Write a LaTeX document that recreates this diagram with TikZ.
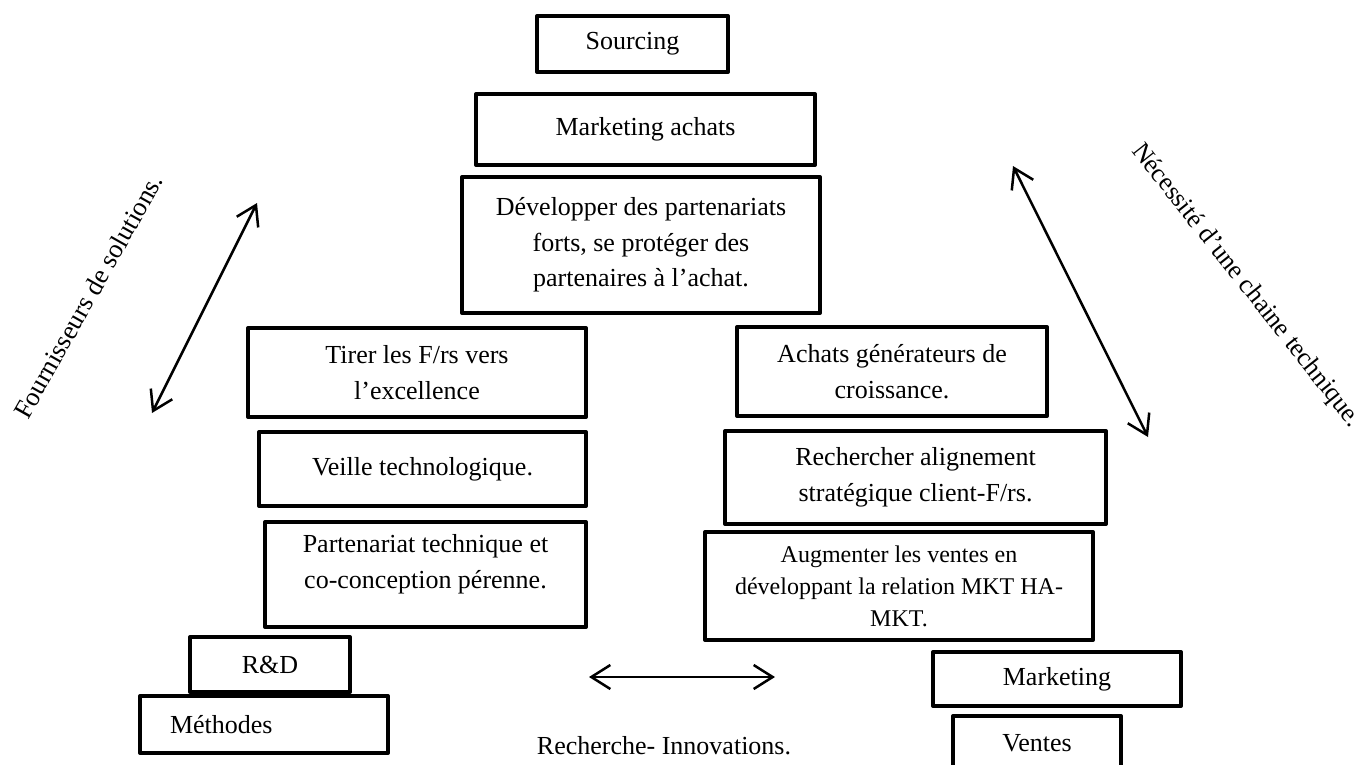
\documentclass[tikz,border=0pt]{standalone}
\usepackage{fontspec}
\setmainfont{Liberation Serif}
\usetikzlibrary{arrows.meta}
\begin{document}
\begin{tikzpicture}[x=1pt,y=-1pt,
  box/.style={draw, line width=4pt, line join=round, inner sep=2pt,
    align=center, font=\fontsize{26}{35.5}\selectfont},
  smallbox/.style={box, font=\fontsize{24}{32}\selectfont},
  link/.style={line width=2.5pt,
    {Straight Barb[length=19pt,width=24pt]}-{Straight Barb[length=19pt,width=24pt]}},
  side/.style={font=\fontsize{26.5}{30}\selectfont, inner sep=0pt},
  caption/.style={font=\fontsize{26}{30}\selectfont, inner sep=0pt},
]
\useasboundingbox (0,0) rectangle (1362,764);

% central column
\node[box, minimum width=191pt, minimum height=56pt] (sourcing) at (632.5,44) {Sourcing};
\node[box, minimum width=339pt, minimum height=71pt] (mktachats) at (645.5,129.5) {Marketing achats};
\node[box, minimum width=358pt, minimum height=136pt] (partenariats) at (641,245)
  {Développer des partenariats\\forts, se protéger des\\partenaires à l’achat.};

% left column
\node[box, minimum width=338pt, minimum height=89pt] (tirer) at (417,372.5)
  {Tirer les F/rs vers\\l’excellence};
\node[box, minimum width=327pt, minimum height=74pt] (veille) at (422.5,469)
  {Veille technologique.};
\node[box, minimum width=321pt, minimum height=105pt, text depth=26pt] (technique) at (425.5,574.5)
  {Partenariat technique et\\co-conception pérenne.};
\node[box, minimum width=160pt, minimum height=55pt] (rd) at (270,664.5) {R\&D};
\node[box, minimum height=57pt, align=left, text width=188pt, inner xsep=30pt] (methodes) at (264,724.5)
  {Méthodes};

% right column
\node[box, minimum width=310pt, minimum height=89pt] (croissance) at (892,371.5)
  {Achats générateurs de\\croissance.};
\node[box, minimum width=381pt, minimum height=93pt] (alignement) at (915.5,477.5)
  {Rechercher alignement\\stratégique client-F/rs.};
\node[smallbox, minimum width=388pt, minimum height=108pt] (ventesmkt) at (899,586)
  {Augmenter les ventes en\\développant la relation MKT HA-\\MKT.};
\node[box, minimum width=248pt, minimum height=54pt] (marketing) at (1057,679) {Marketing};
\node[box, minimum width=168pt, minimum height=54pt] (ventes) at (1037,743) {Ventes};

% side labels
\node[side, rotate=60.5, anchor=base west] (fourn) at (28,421) {Fournisseurs de solutions.};
\node[side, font=\fontsize{26}{30}\selectfont, rotate=-51.6, anchor=base west] (necessite) at (1131,151)
  {Nécessité d’une chaine technique.};
\node[caption, anchor=base] (rechinno) at (664,754) {Recherche- Innovations.};

% double arrows
\coordinate (la) at (257,203);
\coordinate (lb) at (152,413);
\coordinate (ra) at (1013,166);
\coordinate (rb) at (1148,437);
\coordinate (ba) at (589,677);
\coordinate (bb) at (775,677);
\draw[link] (la) -- (lb);
\draw[link] (ra) -- (rb);
\draw[link] (ba) -- (bb);
\end{tikzpicture}
\end{document}
